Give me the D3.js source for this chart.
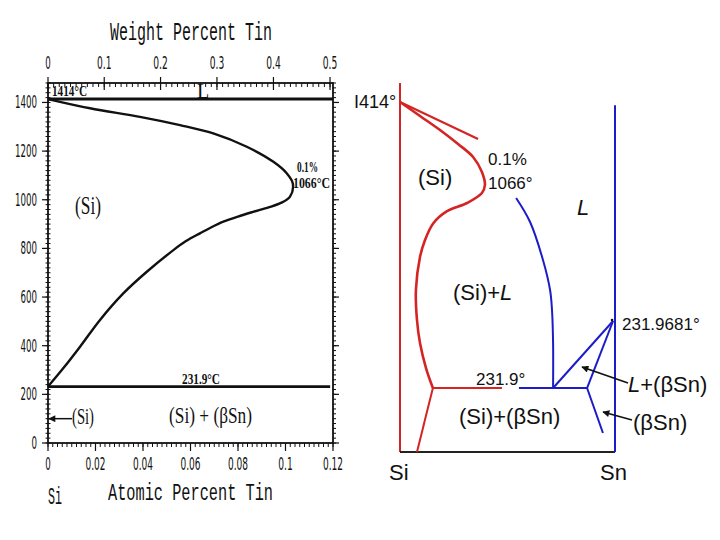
<!DOCTYPE html>
<html><head><meta charset="utf-8">
<script src="https://cdn.jsdelivr.net/npm/d3@7"></script>
<style>body{margin:0;background:#fff}</style>
</head><body>
<svg id="c" width="720" height="540"></svg>
<script>
// ---------- Left chart: Si-Sn (detailed), atomic % Sn vs temperature (°C)
const tempTicks = [0, 200, 400, 600, 800, 1000, 1200, 1400];
const atomicTicks = [0, 0.02, 0.04, 0.06, 0.08, 0.1, 0.12];
const atomicTickLabels = ["0", "0.02", "0.04", "0.06", "0.08", "0.1", "0.12"];
const weightTicks = [0, 0.1, 0.2, 0.3, 0.4, 0.5];
const weightTickLabels = ["0", "0.1", "0.2", "0.3", "0.4", "0.5"];
const solidusAt = [0, 0.0177, 0.0387, 0.0556, 0.0696, 0.0837, 0.0949, 0.1005, 0.1031, 0.1019, 0.0981, 0.0926, 0.0863, 0.0800, 0.0741, 0.0686, 0.0640, 0.0581, 0.0528, 0.0416, 0.0317, 0.0219, 0.0135, 0.0064, 0];
const solidusT  = [1414, 1376, 1341, 1307, 1273, 1218, 1156, 1109, 1066, 1013, 987, 968, 950, 931, 911, 886, 862, 830, 793, 704, 615, 506, 396, 307, 231.9];
const meltingT = 1414;
const eutecticT = 231.9;
const eutecticEndAt = 0.1188;

// ---------- Right chart: schematic Si-Sn diagram (schematic units 0..100)
const redCurveX = [0, 9.3, 18.6, 27.0, 34.0, 38.1, 39.5, 38.1, 31.2, 21.7, 15.5, 11.6, 9.3, 7.4, 7.9, 9.3, 12.1, 15.3];
const redCurveY = [94.85, 91.06, 87.26, 83.47, 79.95, 75.88, 72.36, 70.19, 67.48, 65.2, 62.0, 57.4, 52.85, 43.9, 35.77, 29.54, 22.76, 17.34];
const redTopX = [0, 36.3];
const redTopY = [94.85, 84.8];
const redEutX = [15.3, 47.4];
const redEutY = [17.34, 17.34];
const redLowX = [15.3, 7.9];
const redLowY = [17.34, 0];
const blueLiqX = [54.0, 60.5, 66.5, 69.8, 70.7, 71.2, 71.2];
const blueLiqY = [68.83, 62.33, 52.03, 43.9, 38.48, 29.54, 17.34];
const blueEutX = [55.3, 87.0];
const blueEutY = [17.34, 17.34];
const blueL1X = [71.2, 99.1];
const blueL1Y = [17.34, 35.5];
const blueL2X = [87.0, 99.1];
const blueL2Y = [17.34, 35.5];
const blueL3X = [87.0, 94.4];
const blueL3Y = [17.34, 5.15];

const svg = d3.select("#c");
const defs = svg.append("defs");
defs.append("marker").attr("id", "ah").attr("viewBox", "0 0 10 10").attr("refX", 9).attr("refY", 5)
  .attr("markerWidth", 9).attr("markerHeight", 7).attr("markerUnits", "userSpaceOnUse").attr("orient", "auto")
  .append("path").attr("d", "M0,0 L10,5 L0,10 z").attr("fill", "#111");

function label(g, text, x, y, o) {
  const t = g.append("text").attr("x", x).attr("y", y).text(text)
    .attr("font-family", o.family || "Liberation Sans, Arial, sans-serif")
    .attr("font-size", o.size || 14)
    .attr("fill", o.fill || "#111")
    .attr("text-anchor", o.anchor || "start");
  if (o.weight) t.attr("font-weight", o.weight);
  if (o.style) t.attr("font-style", o.style);
  if (o.len) t.attr("textLength", o.len).attr("lengthAdjust", "spacingAndGlyphs");
  return t;
}
function numLen(s) { let w = 0; for (const ch of s) w += (ch === "." ? 3.5 : 5.5); return w; }

// ===== Left chart
const L = svg.append("g");
const xA = d3.scaleLinear().domain([0, 0.12]).range([48, 333]);
const yT = d3.scaleLinear().domain([0, 1480]).range([443, 83]);
const wtToAt = w => { const a = w / 118.71, b = (100 - w) / 28.0855; return a / (a + b) * 100; };
const serif = "Liberation Serif, Times New Roman, serif";
const mono = "Liberation Mono, Courier New, monospace";
const narrow = "DejaVu Sans Condensed, Liberation Sans Narrow, Liberation Sans, sans-serif";

// frame
L.append("rect").attr("x", xA(0)).attr("y", yT(1480)).attr("width", xA(0.12) - xA(0)).attr("height", yT(0) - yT(1480))
  .attr("fill", "none").attr("stroke", "#111").attr("stroke-width", 1.8);

// minor/major ticks on temperature axes
const tMinor = d3.range(0, 1481, 20);
L.selectAll(".tml").data(tMinor).join("line")
  .attr("x1", xA(0) - 2.5).attr("x2", xA(0) + 2.5).attr("y1", d => yT(d)).attr("y2", d => yT(d))
  .attr("stroke", "#111").attr("stroke-width", 1);
L.selectAll(".tmr").data(tMinor).join("line")
  .attr("x1", xA(0.12)).attr("x2", xA(0.12) + 3).attr("y1", d => yT(d)).attr("y2", d => yT(d))
  .attr("stroke", "#111").attr("stroke-width", 1);
L.selectAll(".tMl").data(tempTicks).join("line")
  .attr("x1", xA(0) - 6).attr("x2", xA(0)).attr("y1", d => yT(d)).attr("y2", d => yT(d))
  .attr("stroke", "#111").attr("stroke-width", 1.2);
L.selectAll(".tMr").data(tempTicks).join("line")
  .attr("x1", xA(0.12)).attr("x2", xA(0.12) + 6).attr("y1", d => yT(d)).attr("y2", d => yT(d))
  .attr("stroke", "#111").attr("stroke-width", 1.2);
tempTicks.forEach(t => label(L, String(t), 37, yT(t) + 6, { family: narrow, size: 17, anchor: "end", len: numLen(String(t)) }));

// bottom atomic axis ticks
const aMinor = d3.range(0, 0.1201, 0.002);
L.selectAll(".amn").data(aMinor).join("line")
  .attr("x1", d => xA(d)).attr("x2", d => xA(d)).attr("y1", yT(0)).attr("y2", yT(0) + 4)
  .attr("stroke", "#111").attr("stroke-width", 1);
L.selectAll(".amj").data(atomicTicks).join("line")
  .attr("x1", d => xA(d)).attr("x2", d => xA(d)).attr("y1", yT(0)).attr("y2", yT(0) + 8)
  .attr("stroke", "#111").attr("stroke-width", 1.2);
atomicTicks.forEach((t, i) => label(L, atomicTickLabels[i], xA(t), 470, { family: narrow, size: 17, anchor: "middle", len: numLen(atomicTickLabels[i]) }));

// top weight axis ticks
const wMinor = d3.range(0, 0.5001, 0.01);
L.selectAll(".wmn").data(wMinor).join("line")
  .attr("x1", d => xA(wtToAt(d))).attr("x2", d => xA(wtToAt(d))).attr("y1", yT(1480)).attr("y2", yT(1480) + 4)
  .attr("stroke", "#111").attr("stroke-width", 1);
L.selectAll(".wmj").data(weightTicks).join("line")
  .attr("x1", d => xA(wtToAt(d))).attr("x2", d => xA(wtToAt(d))).attr("y1", yT(1480) - 6).attr("y2", yT(1480) + 7)
  .attr("stroke", "#111").attr("stroke-width", 1.2);
weightTicks.forEach((t, i) => label(L, weightTickLabels[i], xA(wtToAt(t)), 69, { family: narrow, size: 17, anchor: "middle", len: numLen(weightTickLabels[i]) }));

// phase lines
L.append("line").attr("x1", xA(0)).attr("x2", xA(0.12)).attr("y1", yT(meltingT)).attr("y2", yT(meltingT))
  .attr("stroke", "#111").attr("stroke-width", 3);
L.append("line").attr("x1", xA(0)).attr("x2", xA(eutecticEndAt)).attr("y1", yT(eutecticT)).attr("y2", yT(eutecticT))
  .attr("stroke", "#111").attr("stroke-width", 2.6);
const solPts = solidusAt.map((a, i) => [a, solidusT[i]]);
L.append("path").datum(solPts)
  .attr("d", d3.line().x(d => xA(d[0])).y(d => yT(d[1])).curve(d3.curveCatmullRom.alpha(0.5)))
  .attr("fill", "none").attr("stroke", "#111").attr("stroke-width", 2.4);

// arrow for (Si)
L.append("line").attr("x1", 72).attr("x2", xA(0) + 1).attr("y1", yT(100)).attr("y2", yT(100))
  .attr("stroke", "#111").attr("stroke-width", 1.5).attr("marker-end", "url(#ah)");

// texts left
label(L, "Weight Percent Tin", 110, 40, { family: mono, size: 25, len: 162 });
label(L, "Atomic Percent Tin", 108, 500, { family: mono, size: 23, len: 165 });
label(L, "Si", 48, 504, { family: mono, size: 24, len: 14 });
label(L, "1414°C", 52, 96, { family: serif, size: 15, weight: "bold", len: 35 });
label(L, "L", 197, 98, { family: serif, size: 20 });
label(L, "0.1%", 297, 172, { family: serif, size: 14.5, weight: "bold", len: 21 });
label(L, "1066°C", 293, 188, { family: serif, size: 14.5, weight: "bold", len: 37 });
label(L, "(Si)", 75, 214, { family: serif, size: 25, len: 26 });
label(L, "231.9°C", 182, 384, { family: serif, size: 15, weight: "bold", len: 38 });
label(L, "(Si) + (βSn)", 169, 423, { family: serif, size: 24, len: 83 });
label(L, "(Si)", 72, 424, { family: serif, size: 24, len: 22 });

// ===== Right chart (schematic)
const R = svg.append("g");
const xR = d3.scaleLinear().domain([0, 100]).range([400, 615]);
const yR = d3.scaleLinear().domain([0, 100]).range([452, 83]);
const red = "#d42424", blue = "#1c1cc8";
const lin = d3.line().x(d => xR(d[0])).y(d => yR(d[1]));
const zipP = (xs, ys) => xs.map((x, i) => [x, ys[i]]);
function seg(xs, ys, color, w, curve) {
  const ln = curve ? d3.line().x(d => xR(d[0])).y(d => yR(d[1])).curve(curve) : lin;
  R.append("path").datum(zipP(xs, ys)).attr("d", ln).attr("fill", "none").attr("stroke", color).attr("stroke-width", w);
}
seg([0, 0], [0, 100], red, 2);
seg([0, 100], [0, 0], "#222", 2.2);
seg([100, 100], [0, 94], blue, 2);
seg(redTopX, redTopY, red, 2.2);
seg(redCurveX, redCurveY, red, 2.6, d3.curveCatmullRom.alpha(0.5));
seg(redEutX, redEutY, red, 2);
seg(redLowX, redLowY, red, 2);
seg(blueLiqX, blueLiqY, blue, 2, d3.curveCatmullRom.alpha(0.5));
seg(blueEutX, blueEutY, blue, 2);
seg(blueL1X, blueL1Y, blue, 2);
seg(blueL2X, blueL2Y, blue, 2);
seg(blueL3X, blueL3Y, blue, 2);
R.append("circle").attr("cx", xR(99.1) - 1).attr("cy", yR(35.5) - 1).attr("r", 1.3).attr("fill", "#111");

// arrows right
R.append("line").attr("x1", 628).attr("y1", 383).attr("x2", 582).attr("y2", 367)
  .attr("stroke", "#111").attr("stroke-width", 1.6).attr("marker-end", "url(#ah)");
R.append("line").attr("x1", 632).attr("y1", 420).attr("x2", 603).attr("y2", 412)
  .attr("stroke", "#111").attr("stroke-width", 1.6).attr("marker-end", "url(#ah)");

const sans = "Liberation Sans, Arial, sans-serif";
label(R, "I414°", 354, 108, { family: sans, size: 18 });
label(R, "(Si)", 418, 185, { family: sans, size: 22 });
label(R, "0.1%", 488, 165, { family: sans, size: 17 });
label(R, "1066°", 488, 189, { family: sans, size: 17 });
const tL = R.append("text").attr("x", 577).attr("y", 215).attr("font-family", sans).attr("font-size", 22).attr("fill", "#111");
tL.append("tspan").attr("font-style", "italic").text("L");
const tSL = R.append("text").attr("x", 453).attr("y", 300).attr("font-family", sans).attr("font-size", 22).attr("fill", "#111");
tSL.append("tspan").text("(Si)+");
tSL.append("tspan").attr("font-style", "italic").text("L");
label(R, "231.9681°", 622, 330, { family: sans, size: 17 });
label(R, "231.9°", 476, 385, { family: sans, size: 17 });
const tLb = R.append("text").attr("x", 628).attr("y", 392).attr("font-family", sans).attr("font-size", 22).attr("fill", "#111");
tLb.append("tspan").attr("font-style", "italic").text("L");
tLb.append("tspan").text("+(βSn)");
label(R, "(Si)+(βSn)", 459, 424, { family: sans, size: 22 });
label(R, "(βSn)", 633, 430, { family: sans, size: 22 });
label(R, "Si", 389, 480, { family: sans, size: 22 });
label(R, "Sn", 600, 480, { family: sans, size: 22 });
</script>
</body></html>
